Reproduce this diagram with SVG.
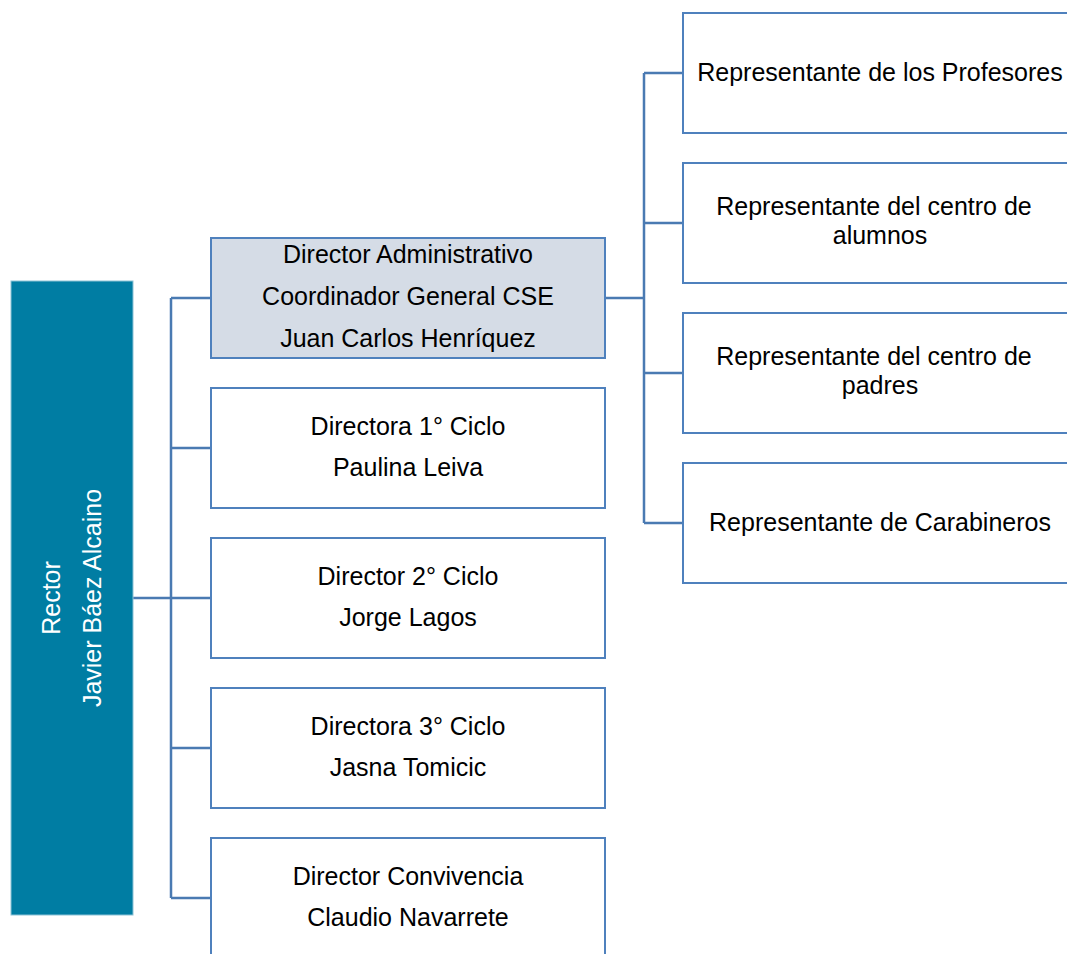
<svg xmlns="http://www.w3.org/2000/svg" width="1067" height="954" viewBox="0 0 1067 954">
<style>
  .box { fill: #ffffff; stroke: #4F81BD; stroke-width: 2; }
  .hl { fill: #D5DCE6; }
  .lbl { font-family: "Liberation Sans", Arial, sans-serif; font-size: 25px; fill: #000000; text-anchor: middle; }
  .rect-r { fill: #007DA3; stroke: #8CC3D6; stroke-width: 1; }
  .rtxt { font-family: "Liberation Sans", Arial, sans-serif; font-size: 25px; fill: #ffffff; text-anchor: middle; }
  .conn { stroke: #4A7AB2; stroke-width: 2.5; fill: none; }
</style>
<rect width="1067" height="954" fill="#ffffff"/>
<g id="connectors">
  <path class="conn" d="M133 598 H171 M171 298 V898 M171 298 H211 M171 448 H211 M171 598 H211 M171 748 H211 M171 898 H211"/>
  <path class="conn" d="M605 298 H644 M644 73 V523 M644 73 H683 M644 223 H683 M644 373 H683 M644 523 H683"/>
</g>
<g id="rector">
  <rect class="rect-r" x="11" y="281" width="122" height="634"/>
  <text class="rtxt" transform="translate(60,598) rotate(-90)">Rector</text>
  <text class="rtxt" transform="translate(101,598) rotate(-90)">Javier Báez Alcaino</text>
</g>
<g id="director-administrativo">
  <rect class="box hl" x="211" y="238" width="394" height="120"/>
  <text class="lbl" x="408" y="263">Director Administrativo</text>
  <text class="lbl" x="408" y="305">Coordinador General CSE</text>
  <text class="lbl" x="408" y="347">Juan Carlos Henríquez</text>
</g>
<g id="directora-1-ciclo">
  <rect class="box" x="211" y="388" width="394" height="120"/>
  <text class="lbl" x="408" y="435">Directora 1° Ciclo</text>
  <text class="lbl" x="408" y="476">Paulina Leiva</text>
</g>
<g id="director-2-ciclo">
  <rect class="box" x="211" y="538" width="394" height="120"/>
  <text class="lbl" x="408" y="585">Director 2° Ciclo</text>
  <text class="lbl" x="408" y="626">Jorge Lagos</text>
</g>
<g id="directora-3-ciclo">
  <rect class="box" x="211" y="688" width="394" height="120"/>
  <text class="lbl" x="408" y="735">Directora 3° Ciclo</text>
  <text class="lbl" x="408" y="776">Jasna Tomicic</text>
</g>
<g id="director-convivencia">
  <rect class="box" x="211" y="838" width="394" height="120"/>
  <text class="lbl" x="408" y="885">Director Convivencia</text>
  <text class="lbl" x="408" y="926">Claudio Navarrete</text>
</g>
<g id="rep-profesores">
  <rect class="box" x="683" y="13" width="394" height="120"/>
  <text class="lbl" x="880" y="81">Representante de los Profesores</text>
</g>
<g id="rep-alumnos">
  <rect class="box" x="683" y="163" width="394" height="120"/>
  <text class="lbl" x="874" y="215">Representante del centro de</text>
  <text class="lbl" x="880" y="244">alumnos</text>
</g>
<g id="rep-padres">
  <rect class="box" x="683" y="313" width="394" height="120"/>
  <text class="lbl" x="874" y="365">Representante del centro de</text>
  <text class="lbl" x="880" y="394">padres</text>
</g>
<g id="rep-carabineros">
  <rect class="box" x="683" y="463" width="394" height="120"/>
  <text class="lbl" x="880" y="531">Representante de Carabineros</text>
</g>
</svg>
